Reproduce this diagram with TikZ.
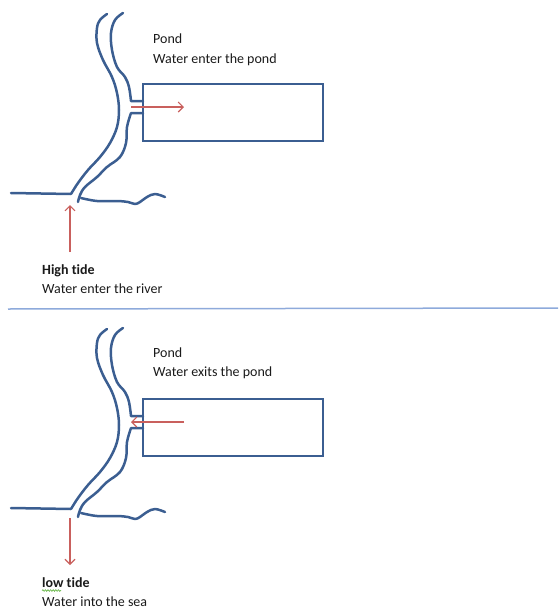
\documentclass[tikz,border=0pt]{standalone}
\usepackage{fontspec}
\setmainfont[Ligatures=NoCommon]{Carlito}
\usetikzlibrary{arrows.meta,decorations.pathmorphing}
\definecolor{bank}{HTML}{3B5E91}
\definecolor{flow}{HTML}{C9605D}
\definecolor{rule}{HTML}{8EAADB}
\definecolor{ink}{HTML}{1A1A1A}
\definecolor{spell}{HTML}{6BB84C}

\tikzset{
  river/.style={draw=bank, line width=2.5pt, line cap=round, line join=round},
  pondbox/.style={draw=bank, line width=2.4pt, minimum width=180pt, minimum height=57pt, inner sep=0pt},
  flowarrow/.style={draw=flow, line width=1.1pt, -{Straight Barb[length=5pt,width=10pt]}},
  caption/.style={anchor=base west, inner sep=0pt, text=ink, font=\fontsize{14}{16}\selectfont},
}

% One estuary scene: river banks, sea coast, channel to the pond
\newcommand{\estuary}{%
  % left bank running into the western coast
  \draw[river] (11,193) -- (71,194)
    plot[smooth, tension=0.6] coordinates {(71,194) (78,183) (88,170) (100,157) (110,143)
      (117,127) (119,110) (117,93) (112,77) (103,60) (97,43) (97,28) (100,20) (107,14)};
  % right bank, upper part ending in the channel's upper wall
  \draw[river] plot[smooth, tension=0.6] coordinates {(123,13) (115,20) (111,33) (112,50)
      (117,67) (125,77) (129,87) (131,101)} -- (143,101);
  % right bank, lower part from the channel's lower wall to the eastern coast
  \draw[river] (143,113) -- (131,113)
    plot[smooth, tension=0.6] coordinates {(131,113) (127,127) (126,143) (120,157)
      (107,167) (97,177) (85,187) (80,195) (78,202)};
  \draw[river] plot[smooth, tension=0.6] coordinates {(81,198) (97,201) (117,201) (128,202)
      (135,204) (140,202) (147,197) (155,194) (165,197)};
}

\begin{document}
\begin{tikzpicture}[x=1pt, y=-1pt]
\useasboundingbox (0,0) rectangle (558,608);

% ---------- high tide ----------
\estuary
\node[pondbox] (pondA) at (233,112.5) {};
\coordinate (inA) at (131,107);
\coordinate (inB) at (184,107);
\draw[flowarrow] (inA) -- (inB);
\coordinate (seaA) at (70,252);
\coordinate (mouthA) at (70,205);
\draw[flowarrow] (seaA) -- (mouthA);
\node[caption] (pondTitleA) at (153,43) {Pond};
\node[caption] (pondTextA) at (153,63) {Water enter the pond};
\node[caption, font=\fontsize{14}{16}\selectfont\bfseries] (tideA) at (42,274) {High tide};
\node[caption] (tideTextA) at (42,293) {Water enter the river};

% ---------- separator ----------
\coordinate (ruleL) at (8,309);
\coordinate (ruleR) at (558,308);
\draw[rule, line width=1.5pt] (ruleL) -- (ruleR);

% ---------- low tide ----------
\begin{scope}[yshift=-315pt]
\estuary
\node[pondbox] (pondB) at (233,112.5) {};
\coordinate (outA) at (184,107);
\coordinate (outB) at (131,107);
\draw[flowarrow] (outA) -- (outB);
\coordinate (mouthB) at (70,203);
\coordinate (seaB) at (70,250);
\draw[flowarrow] (mouthB) -- (seaB);
\end{scope}
\node[caption] (pondTitleB) at (153,357) {Pond};
\node[caption] (pondTextB) at (153,376) {Water exits the pond};
\node[caption, font=\fontsize{14}{16}\selectfont\bfseries] (tideB) at (42,587) {low tide};
\coordinate (spellL) at (42,590.5);
\coordinate (spellR) at (61,590.5);
\draw[spell, line width=0.7pt, decorate, decoration={snake, amplitude=0.8pt, segment length=2.6pt}] (spellL) -- (spellR);
\node[caption] (tideTextB) at (42,606) {Water into the sea};
\end{tikzpicture}
\end{document}
